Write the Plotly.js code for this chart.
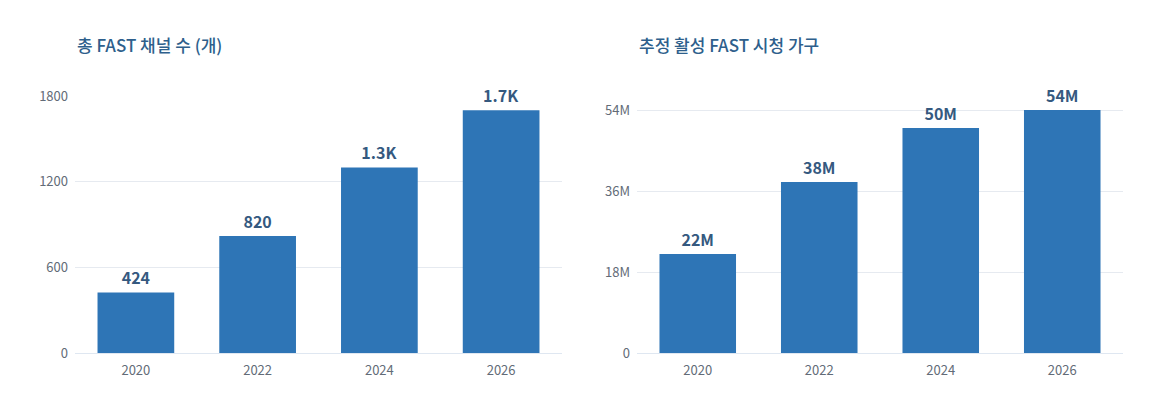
<!DOCTYPE html>
<html>
<head>
<meta charset="utf-8">
<script src="https://cdn.plot.ly/plotly-3.0.1.min.js"></script>
<style>
  html, body { margin: 0; padding: 0; background: #ffffff; }
  #chart { width: 1160px; height: 412px; }
</style>
</head>
<body>
<div id="chart"></div>
<script>
(function () {
    'use strict';

    // data
    var years = ['2020', '2022', '2024', '2026'];
    var channelCounts = [424, 820, 1300, 1700];
    var households = [22, 38, 50, 54]; // millions

    var channelTicks = [0, 600, 1200, 1800];
    var householdTicks = [0, 18, 36, 54];
    var householdTickText = ['0', '18M', '36M', '54M'];

    var leftTitle = '총 FAST 채널 수 (개)';
    var rightTitle = '추정 활성 FAST 시청 가구';

    var FONT = '"Noto Sans CJK KR", "Noto Sans", sans-serif';
    var BAR = '#2e75b6';
    var LABEL = '#35597f';
    var GRID = '#e6eaf0';
    var TICK = '#626b77';

    function countLabel(v) {
        return v >= 1000 ? (v / 1000).toFixed(1) + 'K' : String(v);
    }

    var traces = [
        {
            type: 'bar',
            x: years,
            y: channelCounts,
            xaxis: 'x',
            yaxis: 'y',
            marker: { color: BAR },
            text: channelCounts.map(countLabel),
            textposition: 'outside',
            cliponaxis: false,
            textfont: { family: FONT, size: 16, color: LABEL, weight: 600 },
            hoverinfo: 'skip'
        },
        {
            type: 'bar',
            x: years,
            y: households,
            xaxis: 'x2',
            yaxis: 'y2',
            marker: { color: BAR },
            text: households.map(function (v) { return v + 'M'; }),
            textposition: 'outside',
            cliponaxis: false,
            textfont: { family: FONT, size: 16, color: LABEL, weight: 600 },
            hoverinfo: 'skip'
        }
    ];

    var yAxisBase = {
        showgrid: true,
        gridcolor: GRID,
        gridwidth: 1,
        zeroline: true,
        zerolinecolor: '#dfe7f1',
        zerolinewidth: 1,
        showline: false,
        ticks: '',
        tickfont: { family: FONT, size: 13, color: TICK, weight: 400 },
        ticklabelstandoff: 6,
        fixedrange: true
    };

    var xAxisBase = {
        showgrid: false,
        showline: false,
        zeroline: false,
        ticks: '',
        type: 'category',
        tickfont: { family: FONT, size: 13, color: TICK, weight: 400 },
        ticklabelstandoff: 8,
        fixedrange: true
    };

    var layout = {
        width: 1160,
        height: 412,
        margin: { l: 0, r: 0, t: 96, b: 59 },
        paper_bgcolor: '#ffffff',
        plot_bgcolor: '#ffffff',
        showlegend: false,
        bargap: 0.37,
        font: { family: FONT },
        xaxis: Object.assign({}, xAxisBase, { domain: [75 / 1160, 562 / 1160], anchor: 'y' }),
        xaxis2: Object.assign({}, xAxisBase, { domain: [637 / 1160, 1123 / 1160], anchor: 'y2' }),
        yaxis: Object.assign({}, yAxisBase, {
            anchor: 'x',
            range: [0, 1800],
            tickvals: channelTicks,
            ticktext: channelTicks.map(String)
        }),
        yaxis2: Object.assign({}, yAxisBase, {
            anchor: 'x2',
            range: [0, 54 * 257 / 243],
            tickvals: householdTicks,
            ticktext: householdTickText
        }),
        annotations: [
            {
                text: leftTitle,
                xref: 'paper', yref: 'paper',
                x: 75 / 1160, y: (353 - 44) / 257,
                xanchor: 'left', yanchor: 'middle',
                showarrow: false,
                font: { family: FONT, size: 17, color: '#2e5f8c', weight: 500 }
            },
            {
                text: rightTitle,
                xref: 'paper', yref: 'paper',
                x: 637 / 1160, y: (353 - 44) / 257,
                xanchor: 'left', yanchor: 'middle',
                showarrow: false,
                font: { family: FONT, size: 17, color: '#2e5f8c', weight: 500 }
            }
        ]
    };

    Plotly.newPlot('chart', traces, layout, { displayModeBar: false, staticPlot: true });
})();
</script>
</body>
</html>
